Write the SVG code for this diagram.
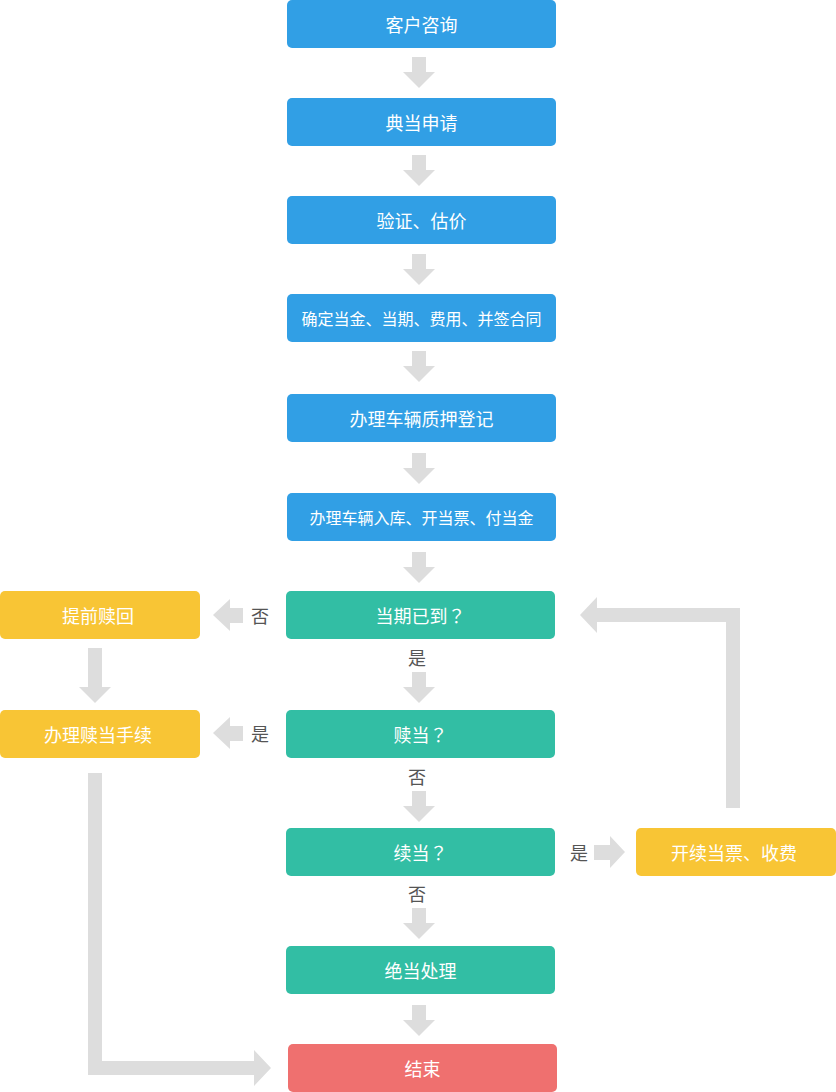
<svg xmlns="http://www.w3.org/2000/svg" width="836" height="1092" viewBox="0 0 836 1092">
<style>
.b{fill:#319fe5}.g{fill:#32bea4}.y{fill:#f8c535}.r{fill:#ef706f}
.t{font-family:"Noto Sans CJK SC","Noto Sans",sans-serif;font-size:18px;fill:#fff;text-anchor:middle;dominant-baseline:central}
.s{font-size:16px}
.q{font-family:"Noto Sans CJK TC",sans-serif}
.l{font-family:"Noto Sans CJK SC","Noto Sans",sans-serif;font-size:18px;fill:#555;text-anchor:middle;dominant-baseline:central}
.a{fill:#dddddd}
</style>
<defs>
<path id="down" d="M-7,0H7V15H16L0,31L-16,15H-7Z"/>
</defs>
<g id="connectors" class="a">
<use href="#down" x="419" y="57"/>
<use href="#down" x="419" y="155"/>
<use href="#down" x="419" y="254"/>
<use href="#down" x="419" y="351"/>
<use href="#down" x="419" y="453"/>
<use href="#down" x="419" y="552"/>
<use href="#down" x="419" y="672"/>
<use href="#down" x="419" y="791"/>
<use href="#down" x="419" y="908"/>
<use href="#down" x="419" y="1005"/>
<path d="M88,648H102V687H111L95,703L79,687H88Z"/>
<path d="M243,608V623H230V631L213,615L230,599V608Z"/>
<path d="M243,726V741H230V749L213,733L230,717V726Z"/>
<path d="M594,845H610V836L625,852L610,868V860H594Z"/>
<path d="M726,808V622H597V633L580,615L597,597V608H740V808Z"/>
<path d="M88,773H102V1061H254V1050L271,1068L254,1086V1075H88Z"/>
<text class="l" x="260" y="615">否</text>
<text class="l" x="260" y="733">是</text>
<text class="l" x="417" y="657">是</text>
<text class="l" x="417" y="776">否</text>
<text class="l" x="417" y="893">否</text>
<text class="l" x="579" y="852">是</text>
</g>
<g id="n1"><rect class="b" x="287" y="0" width="269" height="48" rx="5"/><text class="t" x="421.5" y="24">客户咨询</text></g>
<g id="n2"><rect class="b" x="287" y="98" width="269" height="48" rx="5"/><text class="t" x="421.5" y="122">典当申请</text></g>
<g id="n3"><rect class="b" x="287" y="196" width="269" height="48" rx="5"/><text class="t" x="421.5" y="220">验证、估价</text></g>
<g id="n4"><rect class="b" x="287" y="294" width="269" height="48" rx="5"/><text class="t s" x="421.5" y="318">确定当金、当期、费用、并签合同</text></g>
<g id="n5"><rect class="b" x="287" y="394" width="269" height="48" rx="5"/><text class="t" x="421.5" y="418">办理车辆质押登记</text></g>
<g id="n6"><rect class="b" x="287" y="493" width="269" height="48" rx="5"/><text class="t s" x="421.5" y="517">办理车辆入库、开当票、付当金</text></g>
<g id="n7"><rect class="g" x="286" y="591" width="269" height="48" rx="5"/><text class="t" x="420.5" y="615">当期已到<tspan class="q">？</tspan></text></g>
<g id="n8"><rect class="g" x="286" y="710" width="269" height="48" rx="5"/><text class="t" x="420.5" y="734">赎当<tspan class="q">？</tspan></text></g>
<g id="n9"><rect class="g" x="286" y="828" width="269" height="48" rx="5"/><text class="t" x="420.5" y="852">续当<tspan class="q">？</tspan></text></g>
<g id="n10"><rect class="g" x="286" y="946" width="269" height="48" rx="5"/><text class="t" x="420.5" y="970">绝当处理</text></g>
<g id="n11"><rect class="r" x="288" y="1044" width="269" height="48" rx="5"/><text class="t" x="422.5" y="1068">结束</text></g>
<g id="n12"><rect class="y" x="0" y="591" width="200" height="48" rx="5"/><text class="t" x="98" y="615">提前赎回</text></g>
<g id="n13"><rect class="y" x="0" y="710" width="200" height="48" rx="5"/><text class="t" x="98" y="734">办理赎当手续</text></g>
<g id="n14"><rect class="y" x="636" y="828" width="200" height="48" rx="5"/><text class="t" x="734" y="852">开续当票、收费</text></g>
</svg>
